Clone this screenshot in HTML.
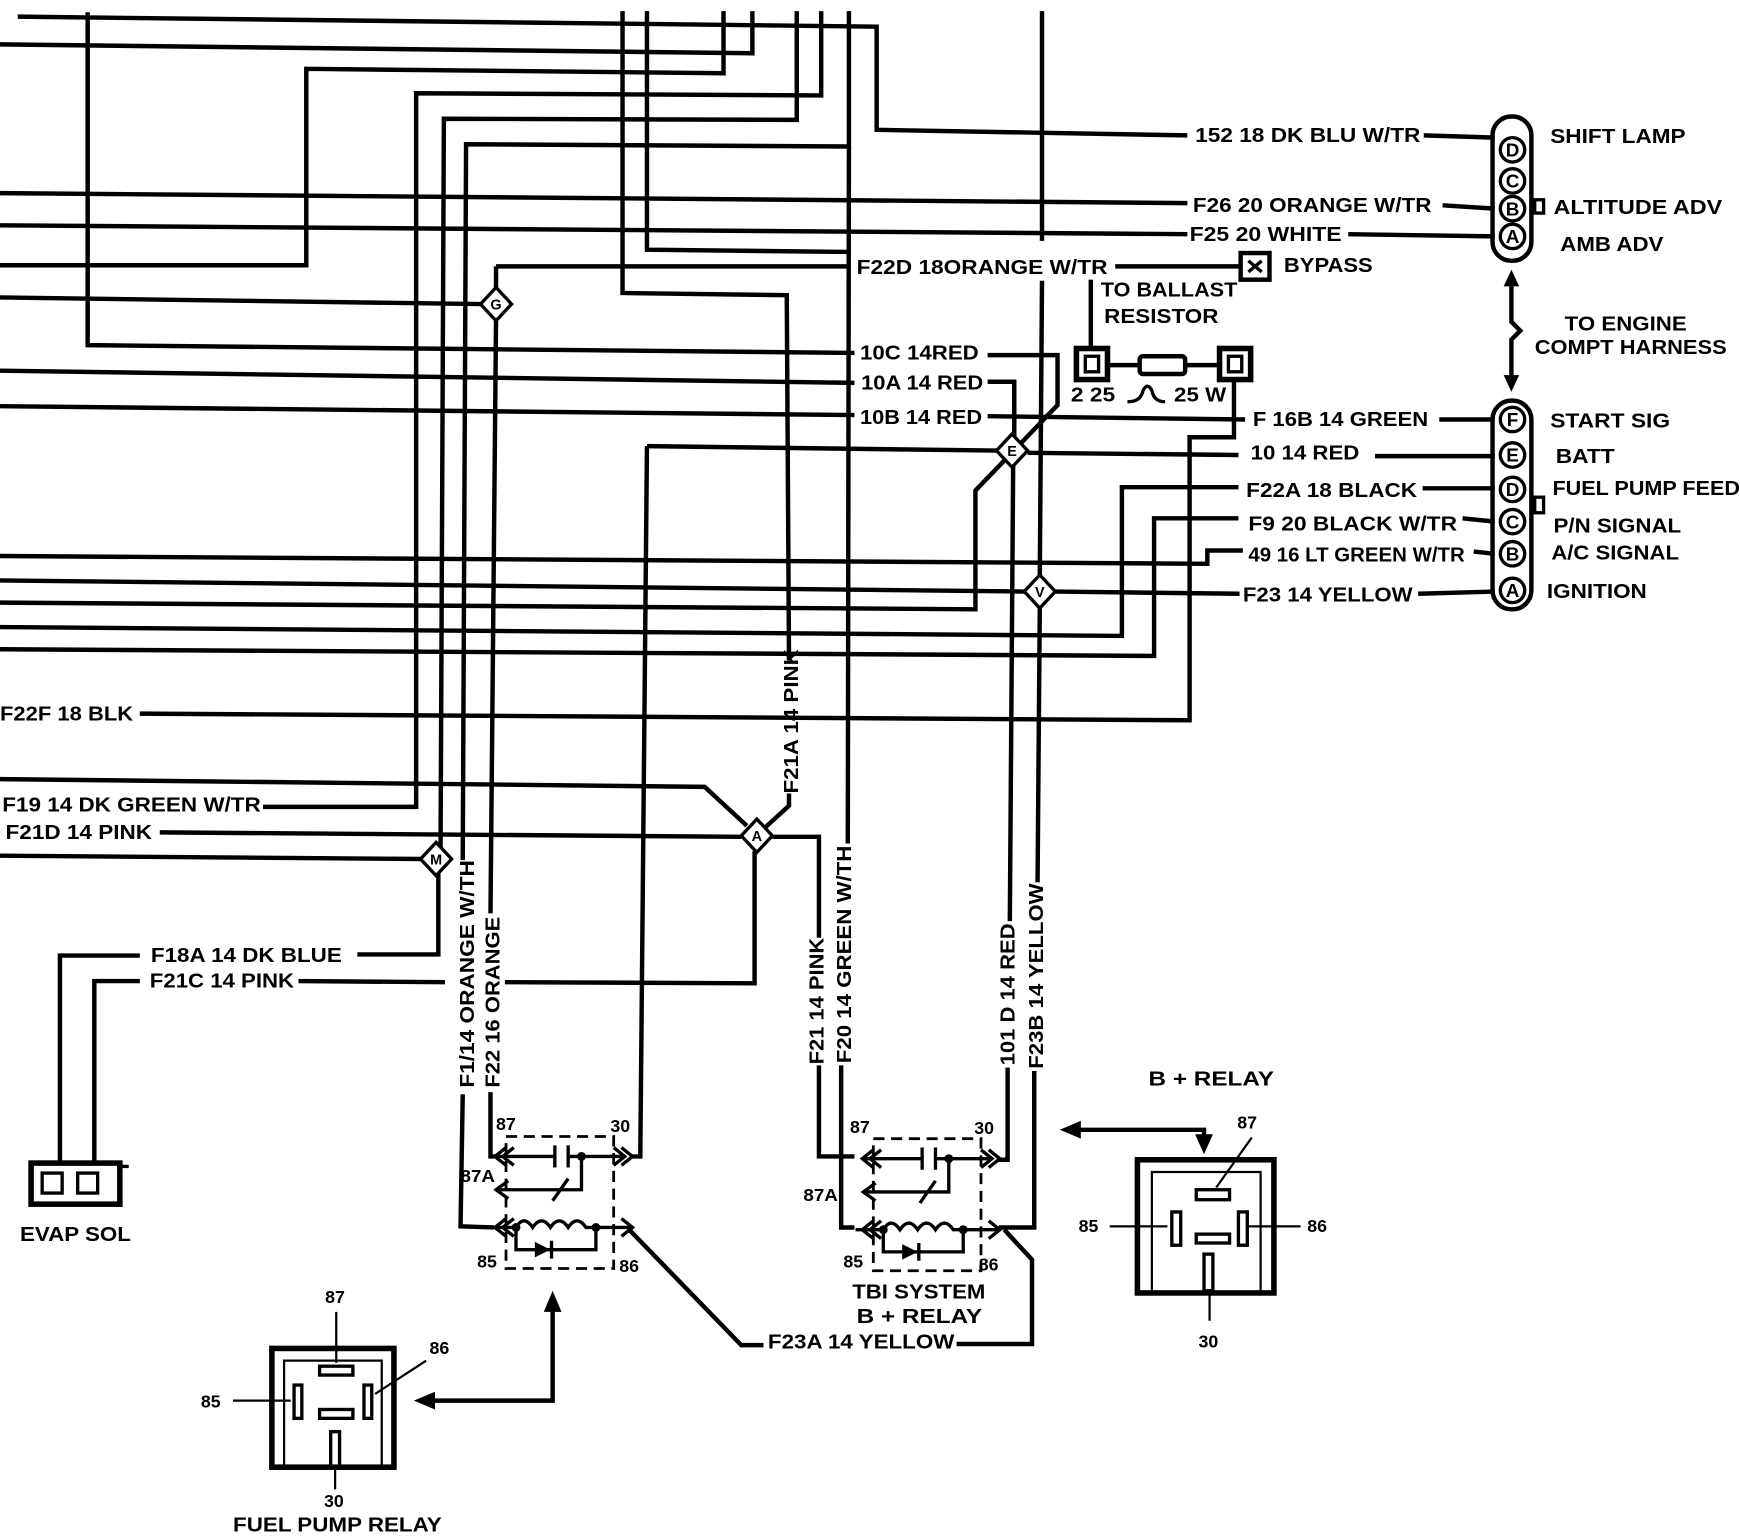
<!DOCTYPE html>
<html><head><meta charset="utf-8"><style>
html,body{margin:0;padding:0;background:#fff;}
svg{display:block;}
text{font-family:"Liberation Sans",sans-serif;font-weight:bold;font-size:18px;fill:#000;}
.s{font-size:16px;}
</style></head><body>
<svg width="1740" height="1536" viewBox="0 0 1568 1384" preserveAspectRatio="none" xmlns="http://www.w3.org/2000/svg">
<rect width="1568" height="1384" fill="#fff"/>
<g fill="none" stroke="#000" stroke-width="4" stroke-linejoin="miter">
<polyline points="16,15 790,24 790,117 1070,122"/>
<polyline points="1283,122 1347,124"/>
<polyline points="0,40 678,48 678,10"/>
<polyline points="79,11 79,311 770,318"/>
<polyline points="0,239 276,239 276,62 652,66 652,10"/>
<polyline points="740,10 740,86 375,84 375,727 237,727"/>
<polyline points="718,10 718,108 400,107 397,766"/>
<polyline points="765,10 765,132 420,130 417,775"/>
<polyline points="417,986 415,1105 445,1106"/>
<polyline points="765,132 764,760"/>
<polyline points="758,960 758,1106 770,1106"/>
<polyline points="561,10 561,264 709,266 711,595"/>
<polyline points="711,715 711,726 688,747"/>
<polyline points="583,10 583,225 765,227"/>
<polyline points="0,174 1070,183"/><polyline points="1300,185 1347,188"/>
<polyline points="0,203 1070,211"/><polyline points="1215,211 1347,213"/>
<polyline points="447,240 765,240"/><polyline points="1005,240 1118,240"/>
<polyline points="447,240 447,260"/>
<polyline points="447,288 442,823"/>
<polyline points="442,984 442,1042 448,1042"/>
<polyline points="0,268 433,274"/>
<polyline points="0,334 770,345"/>
<polyline points="0,366 770,374"/><polyline points="890,375 1122,378"/><polyline points="1297,378 1347,378"/>
<polyline points="583,402 898,406"/>
<polyline points="583,402 577,1042 570,1042"/>
<polyline points="926,408 1116,410"/><polyline points="1239,411 1347,411"/>
<polyline points="890,320 953,320 953,365 879,442 879,549 0,543"/>
<polyline points="890,344 914,344 914,393"/>
<polyline points="913,420 910,830"/>
<polyline points="908,962 908,1045 900,1045"/>
<polyline points="939,10 939,217"/>
<polyline points="939,253 937,519"/>
<polyline points="937,547 935,795"/>
<polyline points="932,965 932,1106 900,1106"/>
<polyline points="983,252 983,314"/>
<polyline points="999,329 1026,329"/><polyline points="1068,329 1098,329"/>
<polyline points="1112,344 1112,394 1072,394 1072,649 126,643"/>
<polyline points="1116,439 1011,439 1011,573 0,565"/><polyline points="1282,440 1347,440"/>
<polyline points="1116,467 1040,467 1040,591 0,585"/><polyline points="1318,467 1347,470"/>
<polyline points="1120,496 1088,496 1088,508 0,501"/><polyline points="1328,497 1347,499"/>
<polyline points="951,533 1117,535"/><polyline points="0,523 923,533"/><polyline points="1278,535 1347,533"/>
<polyline points="0,702 635,709 673,744"/>
<polyline points="144,750 668,754"/>
<polyline points="696,754 738,754 738,845"/>
<polyline points="738,960 738,1042 770,1042"/>
<polyline points="0,771 381,774"/>
<polyline points="395,787 395,860 322,860"/>
<polyline points="54,1048 54,861 126,861"/>
<polyline points="85,1048 85,884 126,884"/>
<polyline points="269,884 401,885"/>
<polyline points="455,885 680,886 680,767"/>
<polyline points="567,1108 668,1212 688,1212"/>
<polyline points="862,1211 930,1211 930,1135 905,1108"/>
</g>
<g fill="#fff" stroke="#000" stroke-width="3">
<polygon points="447,259 461,274 447,289 433,274"/>
<polygon points="912,391 926,406 912,421 898,406"/>
<polygon points="937,518 951,533 937,548 923,533"/>
<polygon points="682,738 696,753 682,768 668,753"/>
<polygon points="393,759 407,774 393,789 379,774"/>
</g>
<g text-anchor="middle">
<text x="447" y="279" style="font-size:13px">G</text>
<text x="912" y="411" style="font-size:13px">E</text>
<text x="937" y="538" style="font-size:13px">V</text>
<text x="682" y="758" style="font-size:13px">A</text>
<text x="393" y="779" style="font-size:13px">M</text>
</g>
<g fill="none" stroke="#000" stroke-width="4">
<rect x="1345" y="105" width="35" height="130" rx="17"/>
<rect x="1345" y="361" width="35" height="188" rx="17"/>
<rect x="1383" y="180" width="8" height="12" stroke-width="3"/>
<rect x="1383" y="448" width="8" height="14" stroke-width="3"/>
</g>
<g fill="none" stroke="#000" stroke-width="3">
<circle cx="1363" cy="135" r="11"/><circle cx="1363" cy="163" r="11"/><circle cx="1363" cy="188" r="11"/><circle cx="1363" cy="213" r="11"/>
<circle cx="1363" cy="378" r="11"/><circle cx="1363" cy="410" r="11"/><circle cx="1363" cy="441" r="11"/><circle cx="1363" cy="470" r="11"/><circle cx="1363" cy="499" r="11"/><circle cx="1363" cy="532" r="11"/>
</g>
<g text-anchor="middle">
<text x="1363" y="141" style="font-size:17px">D</text><text x="1363" y="169" style="font-size:17px">C</text><text x="1363" y="194" style="font-size:17px">B</text><text x="1363" y="219" style="font-size:17px">A</text>
<text x="1363" y="384" style="font-size:17px">F</text><text x="1363" y="416" style="font-size:17px">E</text><text x="1363" y="447" style="font-size:17px">D</text><text x="1363" y="476" style="font-size:17px">C</text><text x="1363" y="505" style="font-size:17px">B</text><text x="1363" y="538" style="font-size:17px">A</text>
</g>
<polyline points="1362,255 1362,290 1370,298 1362,306 1362,342" fill="none" stroke="#000" stroke-width="4"/>
<polygon points="1362,243 1355,258 1369,258" fill="#000"/>
<polygon points="1362,353 1355,338 1369,338" fill="#000"/>
<rect x="1118" y="228" width="26" height="24" fill="none" stroke="#000" stroke-width="4"/>
<path d="M1125,235 L1137,245 M1137,235 L1125,245" stroke="#000" stroke-width="3"/>
<g fill="none" stroke="#000">
<rect x="970" y="314" width="28" height="28" stroke-width="5"/>
<rect x="978" y="321" width="12" height="14" stroke-width="3"/>
<rect x="1099" y="314" width="28" height="28" stroke-width="5"/>
<rect x="1107" y="321" width="12" height="14" stroke-width="3"/>
<rect x="1027" y="321" width="41" height="16" rx="3" stroke-width="4"/>
<path d="M1016,362 Q1028,362 1030,352 Q1034,344 1038,352 Q1040,362 1050,362" stroke-width="3"/>
</g>
<rect x="28" y="1048" width="80" height="37" fill="none" stroke="#000" stroke-width="5"/>
<rect x="38" y="1057" width="18" height="18" fill="none" stroke="#000" stroke-width="3"/>
<rect x="70" y="1057" width="18" height="18" fill="none" stroke="#000" stroke-width="3"/>
<line x1="108" y1="1051" x2="116" y2="1051" stroke="#000" stroke-width="3"/>
<g fill="none" stroke="#000" stroke-width="3">
<rect x="456" y="1024" width="97" height="119" stroke-dasharray="10,6" stroke-width="2.5"/>
<path d="M448,1042 L500,1042 M512,1042 L562,1042 M500,1032 L500,1052 M512,1032 L512,1052"/>
<path d="M456,1034 L446,1042 L456,1050 M463,1034 L453,1042 L463,1050"/>
<path d="M560,1034 L570,1042 L560,1050 M553,1034 L563,1042 L553,1050"/>
<path d="M524,1042 L524,1072 L448,1072 M498,1082 L512,1062"/>
<path d="M458,1064 L447,1072 L458,1080"/>
<path d="M440,1106 L465,1106 Q472,1094 480,1106 Q488,1094 496,1106 Q504,1094 512,1106 Q520,1094 528,1106 L568,1106"/>
<path d="M456,1098 L446,1106 L456,1114 M463,1098 L453,1106 L463,1114 M560,1098 L570,1106 L560,1114"/>
<path d="M465,1106 L465,1126 L537,1126 L537,1106"/>
</g>
<polygon points="482,1119 482,1133 496,1126" fill="#000"/><line x1="497" y1="1118" x2="497" y2="1134" stroke="#000" stroke-width="3"/>
<circle cx="524" cy="1042" r="4"/><circle cx="465" cy="1106" r="4"/><circle cx="537" cy="1106" r="4"/>
<g transform="translate(331,2)">
<g fill="none" stroke="#000" stroke-width="3">
<rect x="456" y="1024" width="97" height="119" stroke-dasharray="10,6" stroke-width="2.5"/>
<path d="M448,1042 L500,1042 M512,1042 L562,1042 M500,1032 L500,1052 M512,1032 L512,1052"/>
<path d="M456,1034 L446,1042 L456,1050 M463,1034 L453,1042 L463,1050"/>
<path d="M560,1034 L570,1042 L560,1050 M553,1034 L563,1042 L553,1050"/>
<path d="M524,1042 L524,1072 L448,1072 M498,1082 L512,1062"/>
<path d="M458,1064 L447,1072 L458,1080"/>
<path d="M440,1106 L465,1106 Q472,1094 480,1106 Q488,1094 496,1106 Q504,1094 512,1106 Q520,1094 528,1106 L568,1106"/>
<path d="M456,1098 L446,1106 L456,1114 M463,1098 L453,1106 L463,1114 M560,1098 L570,1106 L560,1114"/>
<path d="M465,1106 L465,1126 L537,1126 L537,1106"/>
</g>
<polygon points="482,1119 482,1133 496,1126" fill="#000"/><line x1="497" y1="1118" x2="497" y2="1134" stroke="#000" stroke-width="3"/>
<circle cx="524" cy="1042" r="4"/><circle cx="465" cy="1106" r="4"/><circle cx="537" cy="1106" r="4"/>
</g>
<polyline points="498,1180 498,1262 390,1262" fill="none" stroke="#000" stroke-width="4"/>
<polygon points="498,1163 490,1182 506,1182" fill="#000"/>
<polygon points="373,1262 392,1254 392,1270" fill="#000"/>
<polyline points="972,1018 1085,1018 1085,1025" fill="none" stroke="#000" stroke-width="4"/>
<polygon points="955,1018 974,1010 974,1026" fill="#000"/>
<polygon points="1085,1040 1077,1022 1093,1022" fill="#000"/>
<g fill="none" stroke="#000">
<rect x="245" y="1215" width="110" height="107" stroke-width="5"/>
<path d="M256,1322 L256,1226 L344,1226 L344,1322" stroke-width="2"/>
<rect x="288" y="1231" width="30" height="8" stroke-width="3"/>
<rect x="265" y="1248" width="7" height="30" stroke-width="3"/>
<rect x="328" y="1248" width="7" height="30" stroke-width="3"/>
<rect x="288" y="1270" width="30" height="8" stroke-width="3"/>
<rect x="298" y="1290" width="8" height="32" stroke-width="3"/>
<path d="M303,1182 L303,1228 M210,1262 L262,1262 M384,1226 L338,1256 M302,1322 L302,1342" stroke-width="2"/>
</g>
<g fill="none" stroke="#000">
<rect x="1025" y="1045" width="123" height="120" stroke-width="5"/>
<path d="M1038,1165 L1038,1056 L1136,1056 L1136,1165" stroke-width="2"/>
<rect x="1078" y="1072" width="30" height="9" stroke-width="3"/>
<rect x="1056" y="1092" width="8" height="30" stroke-width="3"/>
<rect x="1116" y="1092" width="8" height="30" stroke-width="3"/>
<rect x="1078" y="1112" width="30" height="8" stroke-width="3"/>
<rect x="1085" y="1130" width="8" height="33" stroke-width="3"/>
<path d="M1128,1025 L1096,1070 M1000,1105 L1052,1105 M1125,1105 L1172,1105 M1090,1165 L1090,1190" stroke-width="2"/>
</g>
<g>
<text x="1077" y="128" textLength="203" lengthAdjust="spacingAndGlyphs">152 18 DK BLU W/TR</text>
<text x="1075" y="191" textLength="215" lengthAdjust="spacingAndGlyphs">F26 20 ORANGE W/TR</text>
<text x="1072" y="217" textLength="137" lengthAdjust="spacingAndGlyphs">F25 20 WHITE</text>
<text x="772" y="247" textLength="226" lengthAdjust="spacingAndGlyphs">F22D 18ORANGE W/TR</text>
<text x="1157" y="245" textLength="80" lengthAdjust="spacingAndGlyphs">BYPASS</text>
<text x="992" y="267" textLength="123" lengthAdjust="spacingAndGlyphs">TO BALLAST</text>
<text x="995" y="291" textLength="103" lengthAdjust="spacingAndGlyphs">RESISTOR</text>
<text x="775" y="324" textLength="107" lengthAdjust="spacingAndGlyphs">10C 14RED</text>
<text x="776" y="351" textLength="110" lengthAdjust="spacingAndGlyphs">10A 14 RED</text>
<text x="775" y="382" textLength="110" lengthAdjust="spacingAndGlyphs">10B 14 RED</text>
<text x="965" y="362" textLength="40" lengthAdjust="spacingAndGlyphs">2 25</text>
<text x="1058" y="362" textLength="47" lengthAdjust="spacingAndGlyphs">25 W</text>
<text x="1129" y="384" textLength="158" lengthAdjust="spacingAndGlyphs">F 16B 14 GREEN</text>
<text x="1127" y="414" textLength="98" lengthAdjust="spacingAndGlyphs">10 14 RED</text>
<text x="1123" y="448" textLength="154" lengthAdjust="spacingAndGlyphs">F22A 18 BLACK</text>
<text x="1125" y="478" textLength="188" lengthAdjust="spacingAndGlyphs">F9 20 BLACK W/TR</text>
<text x="1125" y="506" textLength="195" lengthAdjust="spacingAndGlyphs">49 16 LT GREEN W/TR</text>
<text x="1120" y="542" textLength="153" lengthAdjust="spacingAndGlyphs">F23 14 YELLOW</text>
<text x="1397" y="129" textLength="122" lengthAdjust="spacingAndGlyphs">SHIFT LAMP</text>
<text x="1400" y="193" textLength="152" lengthAdjust="spacingAndGlyphs">ALTITUDE  ADV</text>
<text x="1406" y="226" textLength="93" lengthAdjust="spacingAndGlyphs">AMB ADV</text>
<text x="1410" y="298" textLength="110" lengthAdjust="spacingAndGlyphs">TO ENGINE</text>
<text x="1383" y="319" textLength="173" lengthAdjust="spacingAndGlyphs">COMPT HARNESS</text>
<text x="1397" y="385" textLength="108" lengthAdjust="spacingAndGlyphs">START SIG</text>
<text x="1402" y="417" textLength="53" lengthAdjust="spacingAndGlyphs">BATT</text>
<text x="1399" y="446" textLength="169" lengthAdjust="spacingAndGlyphs">FUEL PUMP FEED</text>
<text x="1400" y="480" textLength="115" lengthAdjust="spacingAndGlyphs">P/N SIGNAL</text>
<text x="1398" y="504" textLength="115" lengthAdjust="spacingAndGlyphs">A/C SIGNAL</text>
<text x="1394" y="539" textLength="90" lengthAdjust="spacingAndGlyphs">IGNITION</text>
<text x="0" y="649" textLength="120" lengthAdjust="spacingAndGlyphs">F22F 18 BLK</text>
<text x="2" y="731" textLength="233" lengthAdjust="spacingAndGlyphs">F19 14 DK GREEN W/TR</text>
<text x="5" y="756" textLength="132" lengthAdjust="spacingAndGlyphs">F21D 14 PINK</text>
<text x="136" y="867" textLength="172" lengthAdjust="spacingAndGlyphs">F18A 14 DK BLUE</text>
<text x="135" y="890" textLength="130" lengthAdjust="spacingAndGlyphs">F21C 14 PINK</text>
<text x="18" y="1118" textLength="100" lengthAdjust="spacingAndGlyphs">EVAP SOL</text>
<text x="447" y="1018" class="s">87</text>
<text x="550" y="1020" class="s">30</text>
<text x="415" y="1065" class="s" textLength="31" lengthAdjust="spacingAndGlyphs">87A</text>
<text x="430" y="1142" class="s">85</text>
<text x="558" y="1146" class="s">86</text>
<text x="766" y="1021" class="s">87</text>
<text x="878" y="1022" class="s">30</text>
<text x="724" y="1082" class="s" textLength="31" lengthAdjust="spacingAndGlyphs">87A</text>
<text x="760" y="1142" class="s">85</text>
<text x="882" y="1145" class="s">86</text>
<text x="768" y="1170" textLength="120" lengthAdjust="spacingAndGlyphs">TBI SYSTEM</text>
<text x="772" y="1192" textLength="113" lengthAdjust="spacingAndGlyphs">B + RELAY</text>
<text x="692" y="1215" textLength="168" lengthAdjust="spacingAndGlyphs">F23A 14 YELLOW</text>
<text x="1035" y="978" textLength="113" lengthAdjust="spacingAndGlyphs">B + RELAY</text>
<text x="1115" y="1017" class="s">87</text>
<text x="972" y="1110" class="s">85</text>
<text x="1178" y="1110" class="s">86</text>
<text x="1080" y="1214" class="s">30</text>
<text x="293" y="1174" class="s">87</text>
<text x="387" y="1220" class="s">86</text>
<text x="181" y="1268" class="s">85</text>
<text x="292" y="1358" class="s">30</text>
<text x="210" y="1380" textLength="188" lengthAdjust="spacingAndGlyphs">FUEL PUMP RELAY</text>
<text transform="translate(427,980) rotate(-90)" textLength="205" lengthAdjust="spacingAndGlyphs">F1/14 ORANGE W/TH</text>
<text transform="translate(450,980) rotate(-90)" textLength="154" lengthAdjust="spacingAndGlyphs">F22 16 ORANGE</text>
<text transform="translate(719,715) rotate(-90)" textLength="130" lengthAdjust="spacingAndGlyphs">F21A 14 PINK</text>
<text transform="translate(742,959) rotate(-90)" textLength="114" lengthAdjust="spacingAndGlyphs">F21 14 PINK</text>
<text transform="translate(767,958) rotate(-90)" textLength="196" lengthAdjust="spacingAndGlyphs">F20 14 GREEN W/TH</text>
<text transform="translate(914,960) rotate(-90)" textLength="128" lengthAdjust="spacingAndGlyphs">101 D 14 RED</text>
<text transform="translate(940,963) rotate(-90)" textLength="167" lengthAdjust="spacingAndGlyphs">F23B 14 YELLOW</text>
</g>
</svg>
</body></html>
